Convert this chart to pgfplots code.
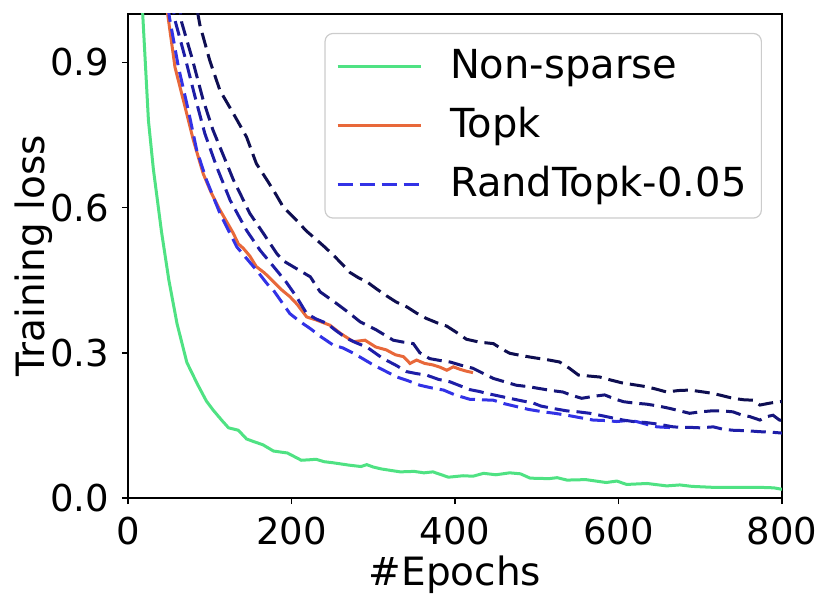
\documentclass[border=0pt]{standalone}
\usepackage{fontspec}
\setmainfont{DejaVu Sans}
\usepackage{pgfplots}
\pgfplotsset{compat=1.18}

\definecolor{cgreen}{HTML}{4FE283}
\definecolor{corange}{HTML}{E8683A}
\definecolor{cblue1}{HTML}{3232E6}
\definecolor{cblue2}{HTML}{1E1EA8}
\definecolor{cblue3}{HTML}{15157A}
\definecolor{cblue4}{HTML}{0E0E50}

\begin{document}
\fontsize{18.5}{22}\selectfont
\begin{tikzpicture}
\begin{axis}[
    at={(0,0)}, anchor=south west,
    scale only axis,
    width=327pt, height=242pt,
    xmin=0, xmax=800, ymin=0, ymax=1.0,
    xtick={0,200,400,600,800},
    ytick={0,0.3,0.6,0.9},
    yticklabel style={/pgf/number format/.cd, fixed, fixed zerofill, precision=1},
    /pgf/number format/assume math mode=true,
    tick align=outside,
    major tick length=3pt,
    every tick/.style={black, line width=0.8pt},
    axis line style={line width=0.8pt},
    xtick pos=bottom, ytick pos=left,
    xlabel={\#Epochs},
    ylabel={Training loss},
    label style={font=\fontsize{19.5}{23}\selectfont},
    xlabel style={at={(axis description cs:0.5,0)}, anchor=base, yshift=-43.5pt},
    ylabel style={at={(axis description cs:0,0.5)}, anchor=base, yshift=41.5pt},
    legend cell align=left,
    legend style={
        at={(0.9694,0.961)}, anchor=north east,
        draw=black!20, line width=0.6pt, rounded corners=4pt,
        font=\fontsize{20}{24}\selectfont,
        row sep=7.5pt, column sep=12pt, inner xsep=5.5pt, inner ysep=6pt,
        nodes={inner sep=2pt},
    },
    legend image code/.code={\draw[#1] (0pt,0pt) -- (41.5pt,0pt);},
    every axis plot/.append style={line width=1.5pt},
]
% Non-sparse
\addplot[cgreen] coordinates {
(0,2.3) (5,1.8) (12,1.3) (18,1.0) (25,0.78) (31,0.68) (41,0.55) (50,0.45)
(60,0.36) (72,0.28) (85,0.235) (96,0.20) (104,0.182) (115,0.16) (123,0.145)
(135,0.14) (145,0.122) (153,0.117) (165,0.11) (178,0.097) (195,0.093) (212,0.078)
(222,0.079) (230,0.08) (240,0.075) (250,0.073) (270,0.068) (285,0.065) (292,0.069)
(300,0.064) (310,0.06) (333,0.054) (350,0.055) (362,0.052) (373,0.054) (392,0.043)
(410,0.046) (422,0.045) (435,0.051) (450,0.048) (467,0.052) (480,0.05) (492,0.041)
(515,0.04) (525,0.042) (537,0.037) (560,0.038) (585,0.032) (598,0.035) (610,0.028)
(635,0.03) (659,0.025) (675,0.027) (690,0.024) (716,0.022) (745,0.022) (773,0.022)
(790,0.021) (800,0.018)
};
\addlegendentry{Non-sparse}
% Topk
\addplot[corange] coordinates {
(40,1.15) (48.5,1.0) (57.5,0.89) (67.7,0.822) (80,0.739) (92,0.67) (102,0.63)
(112.5,0.595) (121,0.57) (128.8,0.547) (135,0.525) (141,0.516) (149,0.5) (157,0.478)
(167,0.465) (178,0.447) (188,0.43) (198,0.416) (207,0.40) (218.6,0.374) (230,0.368)
(247,0.357) (260,0.34) (275.6,0.323) (290,0.326) (303,0.312) (316,0.306) (327,0.296)
(337,0.292) (345,0.278) (353,0.285) (363,0.278) (373,0.275) (382,0.27) (390,0.264)
(398,0.271) (406,0.266) (414,0.262) (422,0.259)
};
\addlegendentry{Topk}
% RandTopk-0.05
\addplot[cblue1, dash pattern=on 7.5pt off 3.5pt] coordinates {
(40,1.15) (50.6,0.994) (61.6,0.891) (73.8,0.801) (84,0.719) (96,0.657) (112.5,0.588)
(133,0.519) (145,0.495) (157,0.471) (170,0.443) (178,0.429) (188,0.405) (198,0.381)
(210,0.365) (223,0.350) (237,0.332) (251,0.316) (263,0.31) (276,0.299) (288,0.287)
(300,0.275) (315,0.262) (329,0.250) (343,0.242) (357,0.233) (370,0.228) (386,0.223)
(400,0.213) (418,0.204) (432,0.203) (447,0.202) (460,0.195) (475,0.189) (490,0.183)
(508,0.178) (522,0.175) (537,0.171) (553,0.166) (569,0.161) (584,0.16) (598,0.158)
(610,0.16) (622,0.158) (635,0.152) (647,0.147) (658,0.146) (668,0.145)
};
\addlegendentry{RandTopk-0.05}
\addplot[cblue2, dash pattern=on 7.5pt off 3.5pt, forget plot] coordinates {
(45,1.12) (57.5,0.987) (69.7,0.911) (82,0.829) (94,0.753) (108.5,0.684) (125,0.615)
(145,0.553) (161.5,0.512) (182,0.470) (194,0.445) (206,0.416) (218.6,0.381) (230,0.37)
(243,0.361) (255,0.345) (267.5,0.330) (280,0.32) (292,0.312) (312,0.288) (327,0.275)
(341,0.261) (353,0.257) (365,0.254) (380,0.245) (394,0.240) (406,0.232) (418,0.224)
(430,0.22) (439,0.216) (453,0.211) (467,0.206) (481,0.201) (496,0.196) (505,0.19)
(520,0.185) (537,0.180) (551,0.178) (565,0.175) (580,0.17) (594,0.165) (606,0.161)
(618,0.158) (633,0.156) (647,0.153) (657,0.15) (667,0.147) (677,0.146) (687,0.146)
(700,0.145) (716,0.147) (728,0.142) (740,0.140) (757,0.139) (773,0.137) (787,0.136)
(801,0.134)
};
\addplot[cblue3, dash pattern=on 7.5pt off 3.5pt, forget plot] coordinates {
(55,1.12) (65.6,0.983) (78,0.911) (92,0.822) (104,0.760) (112.5,0.725) (129,0.657)
(134,0.64) (149,0.588) (165.5,0.547) (182,0.505) (190,0.49) (202,0.478) (212,0.468)
(223,0.457) (235,0.426) (245,0.414) (255,0.402) (270,0.383) (284,0.364) (304,0.347)
(324.5,0.326) (337,0.322) (349,0.319) (357,0.30) (369,0.288) (382,0.284) (394,0.281)
(408,0.274) (422,0.268) (435,0.257) (447,0.247) (461,0.24) (475,0.233) (490,0.23)
(504,0.226) (518,0.222) (532,0.219) (543,0.212) (555,0.206) (569,0.21) (583,0.213)
(595,0.205) (606,0.199) (620,0.196) (634,0.194) (649,0.19) (663,0.185) (675,0.18)
(687,0.175) (700,0.178) (714,0.180) (727,0.18) (740,0.178) (750,0.172) (761,0.168)
(773,0.161) (781,0.168) (789,0.171) (797,0.161) (801,0.16)
};
\addplot[cblue4, dash pattern=on 7.5pt off 3.5pt, forget plot] coordinates {
(80,1.05) (88,0.977) (100,0.904) (112.5,0.842) (129,0.794) (145,0.746) (157,0.691)
(170,0.657) (180,0.63) (190,0.601) (206,0.574) (218,0.552) (231,0.533) (241,0.518)
(251,0.502) (261,0.485) (271.5,0.466) (282,0.455) (292,0.447) (304,0.432) (316,0.418)
(328,0.405) (341,0.395) (353,0.382) (365,0.371) (378,0.362) (390,0.355) (402,0.342)
(414,0.328) (430,0.322) (447,0.319) (457,0.308) (467,0.299) (482,0.294) (496,0.290)
(512,0.286) (528,0.281) (540,0.268) (551,0.254) (564,0.252) (577,0.250) (590,0.244)
(604,0.238) (619,0.234) (634,0.230) (646,0.225) (659,0.219) (673,0.222) (687,0.223)
(700,0.22) (716,0.216) (728,0.211) (740,0.206) (753,0.203) (765,0.202) (773,0.192)
(785,0.196) (797,0.199) (801,0.2)
};
\end{axis}
\pgfresetboundingbox
\path (-64pt,-54pt) rectangle (351pt,249pt);
\end{tikzpicture}
\end{document}
